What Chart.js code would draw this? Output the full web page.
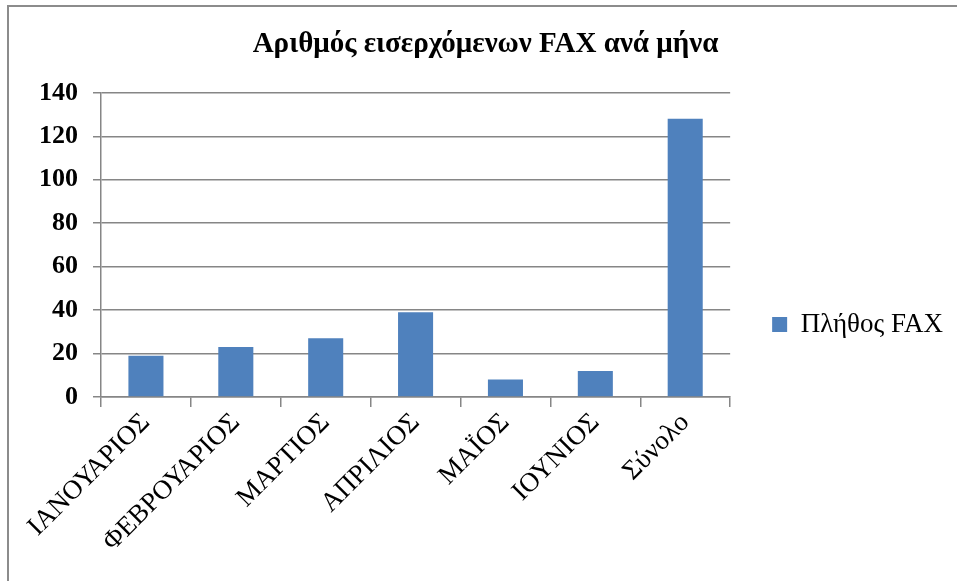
<!DOCTYPE html>
<html>
<head>
<meta charset="utf-8">
<script src="https://cdn.jsdelivr.net/npm/chart.js@4.4.0/dist/chart.umd.min.js"></script>
<style>
  html, body { margin: 0; padding: 0; background: #fff; }
  #wrap { position: relative; width: 957px; height: 581px; overflow: hidden; }
  #frame { position: absolute; left: 7px; top: 5px; width: 1000px; height: 1000px;
           border-left: 2px solid #8c8c8c; border-top: 2px solid #8c8c8c; }
  canvas { position: absolute; left: 0; top: 0; }
</style>
</head>
<body>
<div id="wrap">
  <div id="frame"></div>
  <canvas id="faxChart" width="957" height="581"></canvas>
</div>
<script>
// --- DATA ---
const months = ['ΙΑΝΟΥΑΡΙΟΣ', 'ΦΕΒΡΟΥΑΡΙΟΣ', 'ΜΑΡΤΙΟΣ', 'ΑΠΡΙΛΙΟΣ', 'ΜΑΪΟΣ', 'ΙΟΥΝΙΟΣ', 'Σύνολο'];
const faxCounts = [19, 23, 27, 39, 8, 12, 128];
const yTicks = [0, 20, 40, 60, 80, 100, 120, 140];

const gridGray = '#868686';
const serif = '"Liberation Serif", "Times New Roman", serif';

const ctx = document.getElementById('faxChart').getContext('2d');
new Chart(ctx, {
    type: 'bar',
    data: {
        labels: months,
        datasets: [{
            label: 'Πλήθος FAX',
            data: faxCounts,
            backgroundColor: '#4f81bd',
            borderColor: '#4f81bd',
            borderWidth: 0,
            barPercentage: 0.39,
            categoryPercentage: 1.0
        }]
    },
    options: {
        responsive: false,
        animation: false,
        layout: { padding: { left: 18, right: 4, top: 0, bottom: 0 } },
        scales: {
            x: {
                grid: { display: true, drawOnChartArea: false, offset: true, color: gridGray, lineWidth: 1.5, tickLength: 10 },
                border: { display: true, color: gridGray, width: 1.5 },
                ticks: {
                    minRotation: 45, maxRotation: 45, padding: 0,
                    color: '#000',
                    font: { family: serif, size: 27 }
                },
                afterFit: (scale) => { scale.height = 581 - 397; }
            },
            y: {
                min: 0, max: 140,
                afterBuildTicks: (scale) => { scale.ticks = yTicks.map(v => ({ value: v })); },
                grid: { color: gridGray, lineWidth: 1.5, tickLength: 8 },
                border: { display: true, color: gridGray, width: 1.5 },
                ticks: {
                    padding: 15, color: '#000',
                    font: { family: serif, size: 26, weight: 'bold' }
                },
                afterFit: (scale) => { scale.width = 101 - 18; }
            }
        },
        plugins: {
            title: {
                display: true,
                text: 'Αριθμός εισερχόμενων FAX ανά μήνα',
                color: '#000',
                font: { family: serif, size: 29, weight: 'bold', lineHeight: 1.2 },
                padding: { top: 27, bottom: 31 }
            },
            legend: {
                position: 'right',
                // empty title only nudges the single entry down to where it sits in the original
                title: { display: true, text: ' ', font: { size: 10, lineHeight: 1 }, padding: { top: 0, bottom: 58 } },
                labels: {
                    boxWidth: 15, boxHeight: 15, padding: 42,
                    color: '#000',
                    font: { family: serif, size: 27 }
                }
            },
            tooltip: { enabled: false }
        }
    }
});
</script>
</body>
</html>
